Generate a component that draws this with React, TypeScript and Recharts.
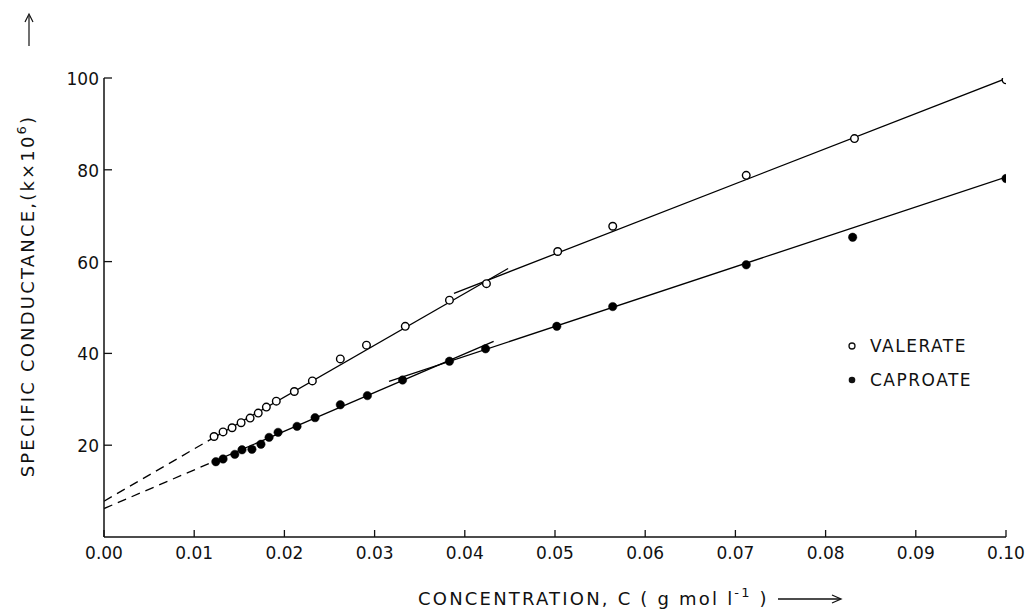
import React from 'react';
import { ComposedChart, XAxis, YAxis, Scatter, Line } from 'recharts';

// Concentration C (g mol l^-1) and specific conductance (k x 10^6)
const valerateC = [0.0122, 0.0132, 0.0142, 0.0152, 0.0162, 0.0171, 0.018, 0.0191, 0.0211, 0.0231, 0.0262, 0.0291, 0.0334, 0.0383, 0.0424, 0.0503, 0.0564, 0.0712, 0.0832, 0.1];
const valerateK = [21.9, 22.9, 23.8, 24.9, 25.9, 27.0, 28.3, 29.6, 31.7, 34.0, 38.8, 41.8, 45.9, 51.6, 55.2, 62.2, 67.7, 78.8, 86.8, 99.6];
const caproateC = [0.0124, 0.0132, 0.0145, 0.0153, 0.0164, 0.0174, 0.0183, 0.0193, 0.0214, 0.0234, 0.0262, 0.0292, 0.0331, 0.0383, 0.0423, 0.0502, 0.0564, 0.0712, 0.083, 0.1];
const caproateK = [16.4, 17.0, 18.0, 19.0, 19.1, 20.2, 21.7, 22.8, 24.1, 26.0, 28.8, 30.8, 34.2, 38.3, 41.0, 45.9, 50.2, 59.3, 65.3, 78.1];

// Fitted straight lines (end points)
const valerateDashC = [0, 0.0115];
const valerateDashK = [7.8, 20.9];
const valerateLowC = [0.0115, 0.0448];
const valerateLowK = [20.9, 58.5];
const valerateHighC = [0.0388, 0.1];
const valerateHighK = [53.1, 99.9];
const caproateDashC = [0, 0.012];
const caproateDashK = [6.2, 16.3];
const caproateLowC = [0.012, 0.0432];
const caproateLowK = [16.3, 42.6];
const caproateHighC = [0.0316, 0.1];
const caproateHighK = [33.9, 78.4];

const xTicks = [0, 0.01, 0.02, 0.03, 0.04, 0.05, 0.06, 0.07, 0.08, 0.09, 0.1];
const xTickLabels = ['0.00', '0.01', '0.02', '0.03', '0.04', '0.05', '0.06', '0.07', '0.08', '0.09', '0.10'];
const yTicks = [20, 40, 60, 80, 100];

const seriesNames = ['VALERATE', 'CAPROATE'];

const zip = (c: number[], k: number[]) => c.map((v, i) => ({ c: v, k: k[i] }));

const FONT = '"DejaVu Sans", sans-serif';

const XTick = (props: any) => {
  const { x, y, payload } = props;
  const idx = xTicks.indexOf(payload.value);
  const label = idx >= 0 ? xTickLabels[idx] : String(payload.value);
  return (
    <g>
      <line x1={x} x2={x} y1={y} y2={y - 7} stroke="#111" strokeWidth={1.3} />
      <text x={x} y={y + 22} textAnchor="middle" fontFamily={FONT} fontSize={17} fill="#111">
        {label}
      </text>
    </g>
  );
};

const YTick = (props: any) => {
  const { x, y, payload } = props;
  return (
    <g>
      <line x1={x} x2={x + 8} y1={y} y2={y} stroke="#111" strokeWidth={1.3} />
      <text x={x - 5} y={y + 7} textAnchor="end" fontFamily={FONT} fontSize={17} fill="#111">
        {payload.value}
      </text>
    </g>
  );
};

const OpenDot = (props: any) => (
  <circle cx={props.cx} cy={props.cy} r={3.8} fill="#fff" stroke="#000" strokeWidth={1.4} />
);
const FilledDot = (props: any) => (
  <circle cx={props.cx} cy={props.cy} r={4.2} fill="#000" stroke="#000" strokeWidth={0.5} />
);

const lineProps = {
  type: 'linear' as const,
  dataKey: 'k',
  stroke: '#000',
  strokeWidth: 1.3,
  dot: false,
  activeDot: false,
  isAnimationActive: false,
  legendType: 'none' as const,
};

export default function App() {
  return (
    <div style={{ position: 'absolute', left: 0, top: 0, width: 1033, height: 613, background: '#fff' }}>
      <ComposedChart
        width={1033}
        height={613}
        margin={{ top: 78, right: 27, bottom: 75, left: 103 }}
      >
        <XAxis
          type="number"
          dataKey="c"
          domain={[0, 0.1]}
          ticks={xTicks}
          height={1}
          tickSize={0}
          tickMargin={0}
          tickLine={false}
          tick={<XTick />}
          axisLine={{ stroke: '#111', strokeWidth: 1.5 }}
          allowDataOverflow
          interval={0}
        />
        <YAxis
          type="number"
          dataKey="k"
          domain={[0, 100]}
          ticks={yTicks}
          width={1}
          tickSize={0}
          tickMargin={0}
          tickLine={false}
          tick={<YTick />}
          axisLine={{ stroke: '#111', strokeWidth: 1.5 }}
          allowDataOverflow
          interval={0}
        />
        <Line {...lineProps} data={zip(valerateDashC, valerateDashK)} strokeDasharray="9 6" />
        <Line {...lineProps} data={zip(valerateLowC, valerateLowK)} />
        <Line {...lineProps} data={zip(valerateHighC, valerateHighK)} />
        <Line {...lineProps} data={zip(caproateDashC, caproateDashK)} strokeDasharray="9 6" />
        <Line {...lineProps} data={zip(caproateLowC, caproateLowK)} />
        <Line {...lineProps} data={zip(caproateHighC, caproateHighK)} />
        <Scatter name={seriesNames[0]} data={zip(valerateC, valerateK)} shape={<OpenDot />} isAnimationActive={false} />
        <Scatter name={seriesNames[1]} data={zip(caproateC, caproateK)} shape={<FilledDot />} isAnimationActive={false} />
      </ComposedChart>
      <svg
        width={1033}
        height={613}
        style={{ position: 'absolute', left: 0, top: 0, pointerEvents: 'none' }}
      >
        {/* y title */}
        <text
          x={34}
          y={296}
          transform="rotate(-90 34 296)"
          textAnchor="middle"
          fontFamily={FONT}
          fontSize={18}
          letterSpacing={2.2}
          fill="#111"
        >
          SPECIFIC CONDUCTANCE,(k×10
          <tspan dy={-8} fontSize={13}>6</tspan>
          <tspan dy={8}>)</tspan>
        </text>
        {/* up arrow */}
        <line x1={29} y1={46} x2={29} y2={16} stroke="#111" strokeWidth={1.2} />
        <path d="M25 22 L29 14 L33 22" fill="none" stroke="#111" strokeWidth={1.2} />
        {/* x title */}
        <text x={418} y={605} fontFamily={FONT} fontSize={18} letterSpacing={2.2} fill="#111">
          CONCENTRATION, C ( g mol  l
          <tspan dy={-8} fontSize={13}>-1</tspan>
          <tspan dy={8}> )</tspan>
        </text>
        <line x1={778} y1={599} x2={840} y2={599} stroke="#111" strokeWidth={1.3} />
        <path d="M832 595 L841 599 L832 603" fill="none" stroke="#111" strokeWidth={1.3} />
        {/* legend */}
        <circle cx={852} cy={346} r={3} fill="#fff" stroke="#111" strokeWidth={1.3} />
        <text x={870} y={352} fontFamily={FONT} fontSize={17} letterSpacing={1.5} fill="#111">
          {seriesNames[0]}
        </text>
        <circle cx={852} cy={380} r={3.3} fill="#111" />
        <text x={870} y={386} fontFamily={FONT} fontSize={17} letterSpacing={1.5} fill="#111">
          {seriesNames[1]}
        </text>
      </svg>
    </div>
  );
}
